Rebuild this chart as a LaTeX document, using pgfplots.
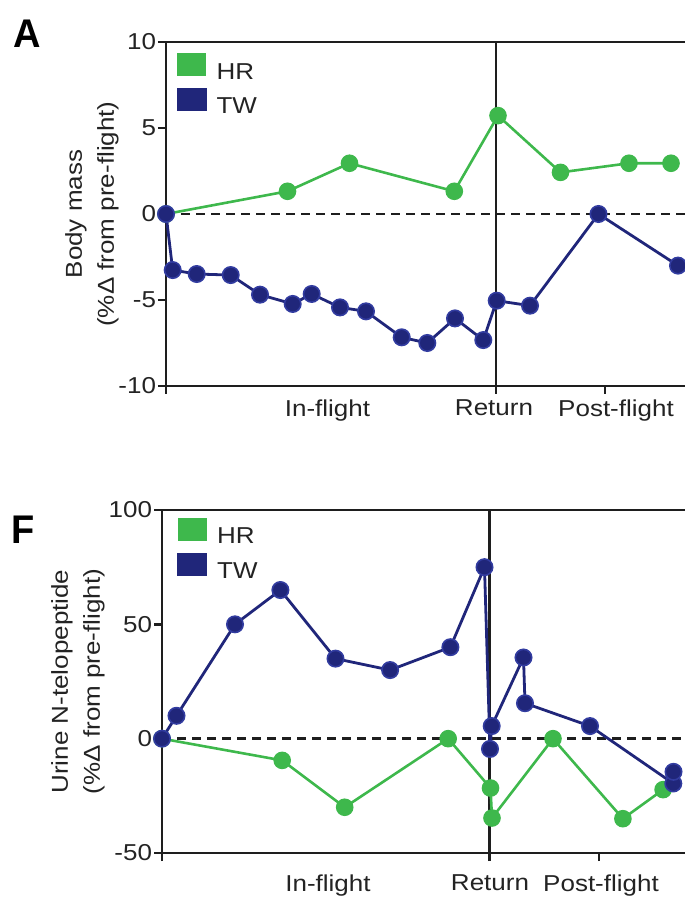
\documentclass[border=0pt]{standalone}
\usepackage{fontspec}
\setmainfont{Liberation Sans}[FakeStretch=1.13]
\newfontfamily\panelfont{Liberation Sans}[FakeStretch=0.95]
\usepackage{pgfplots}
\pgfplotsset{compat=1.18}
\definecolor{hrc}{RGB}{62,184,76}
\definecolor{twc}{RGB}{32,38,122}
\definecolor{twe}{RGB}{50,60,160}
\definecolor{axc}{RGB}{30,30,30}
\definecolor{txc}{RGB}{35,35,35}
\pgfplotsset{
  panel/.style={
    scale only axis,
    anchor=south west,
    axis x line*=bottom, axis y line*=left,
    axis line style={-, line width=1.3pt, color=axc},
    tick style={line width=1.3pt, color=axc},
    tick align=outside,
    major tick length=4pt,
    xmin=0,
    xticklabels={},
    clip=false,
    ticklabel style={font=\fontsize{11.5}{13}\selectfont, text=txc},
    yticklabel style={inner xsep=0.8pt},
    /pgf/number format/assume math mode=true,
    legend style={draw=none, fill=none, inner sep=0pt, anchor=north west,
      font=\fontsize{11.5}{13}\selectfont, row sep=3pt, column sep=5pt,
      nodes={inner sep=0pt, text=txc}},
    legend cell align=left,
    y label style={anchor=center, align=center, font=\fontsize{11.5}{16}\selectfont, text=txc},
  },
  hr/.style={color=hrc, line width=1.3pt, mark=*, mark size=4.1pt, mark options={fill=hrc, draw=hrc, line width=0.6pt},
    legend image code/.code={\fill[hrc] (0pt,-1pt) rectangle (13.5pt,9pt);}},
  tw/.style={color=twc, line width=1.4pt, mark=*, mark size=4.1pt, mark options={fill=twc, draw=twe, line width=0.8pt},
    legend image code/.code={\fill[twc] (0pt,-1pt) rectangle (13.5pt,9pt);}},
}
\begin{document}
\begin{tikzpicture}
\useasboundingbox (0pt,0pt) rectangle (342.5pt,450pt);
\node[font=\panelfont\bfseries\fontsize{20}{20}\selectfont, text=black] at (13.5pt,433pt) {A};
\node[font=\panelfont\bfseries\fontsize{20}{20}\selectfont, text=black] at (11.75pt,185pt) {F};
% Panel A
\begin{axis}[panel, at={(83pt,257pt)}, width=259.5pt, height=172pt,
  xmax=519, ymin=-10, ymax=10, ytick={-10,-5,0,5,10},
  xtick={0,330,439},
  extra x ticks={161.5,328,450}, extra x tick labels={In-flight,Return,Post-flight},
  extra x tick style={major tick length=0pt, tick label style={yshift=-3.5pt}},
  ylabel={Body mass\\(\%Δ from pre-flight)},
  y label style={at={(axis description cs:-0.1426,0.5)}},
  legend style={at={(axis description cs:0.02,0.968)}}]
\draw[line width=1.3pt, axc] (rel axis cs:0,1) -- (rel axis cs:1,1);
\draw[line width=1.3pt, axc] (axis cs:330,-10) -- (axis cs:330,10);
\draw[line width=1.4pt, axc, dash pattern=on 4.5pt off 3pt] (axis cs:0,0) -- (axis cs:519,0);
\addplot[hr] coordinates {(0,0) (121.5,1.32) (183.5,2.95) (288.3,1.32) (332,5.72) (394.5,2.42) (463,2.95) (505,2.95)};
\addlegendentry{HR}
\addplot[tw] coordinates {(0,0) (6.7,-3.26) (30.7,-3.49) (64.7,-3.55) (94,-4.69) (126.7,-5.23) (145.7,-4.65) (174,-5.43) (200,-5.66) (235.7,-7.17) (261.3,-7.50) (289,-6.07) (317.3,-7.33) (330.7,-5.04) (364,-5.33) (432.5,0) (512,-3.0)};
\addlegendentry{TW}
\end{axis}
% Panel F
\begin{axis}[panel, at={(81pt,23.5pt)}, width=261.5pt, height=171.5pt,
  xmax=523, ymin=-50, ymax=100, ytick={-50,0,50,100},
  xtick={0,327.5,436.9},
  extra x ticks={166,328,439}, extra x tick labels={In-flight,Return,Post-flight},
  extra x tick style={major tick length=0pt, tick label style={yshift=-7.5pt}},
  ylabel={Urine N-telopeptide\\(\%Δ from pre-flight)},
  y label style={at={(axis description cs:-0.1606,0.5)}},
  legend style={at={(axis description cs:0.0287,0.977)}}]
\draw[line width=1.3pt, axc] (rel axis cs:0,1) -- (rel axis cs:1,1);
\draw[line width=1.3pt, axc] (axis cs:327.5,-50) -- (axis cs:327.5,100);
\draw[line width=1.4pt, axc, dash pattern=on 4.5pt off 3pt] (axis cs:0,0) -- (axis cs:523,0);
\addplot[hr] coordinates {(0,0) (120.2,-9.5) (182.7,-30) (286.2,0) (328.5,-21.6) (330,-34.7) (391,0) (460.9,-35) (501.1,-22.3)};
\addlegendentry{HR}
\addplot[tw] coordinates {(0,0) (14.5,10) (73,50) (118.4,65) (173.5,35) (228.1,30) (288.4,40) (322.5,75) (328,-4.5) (329.7,5.5) (361.5,35.5) (363,15.5) (428,5.5) (511.3,-19.6) (511.5,-14.5)};
\addlegendentry{TW}
\end{axis}
\end{tikzpicture}
\end{document}
